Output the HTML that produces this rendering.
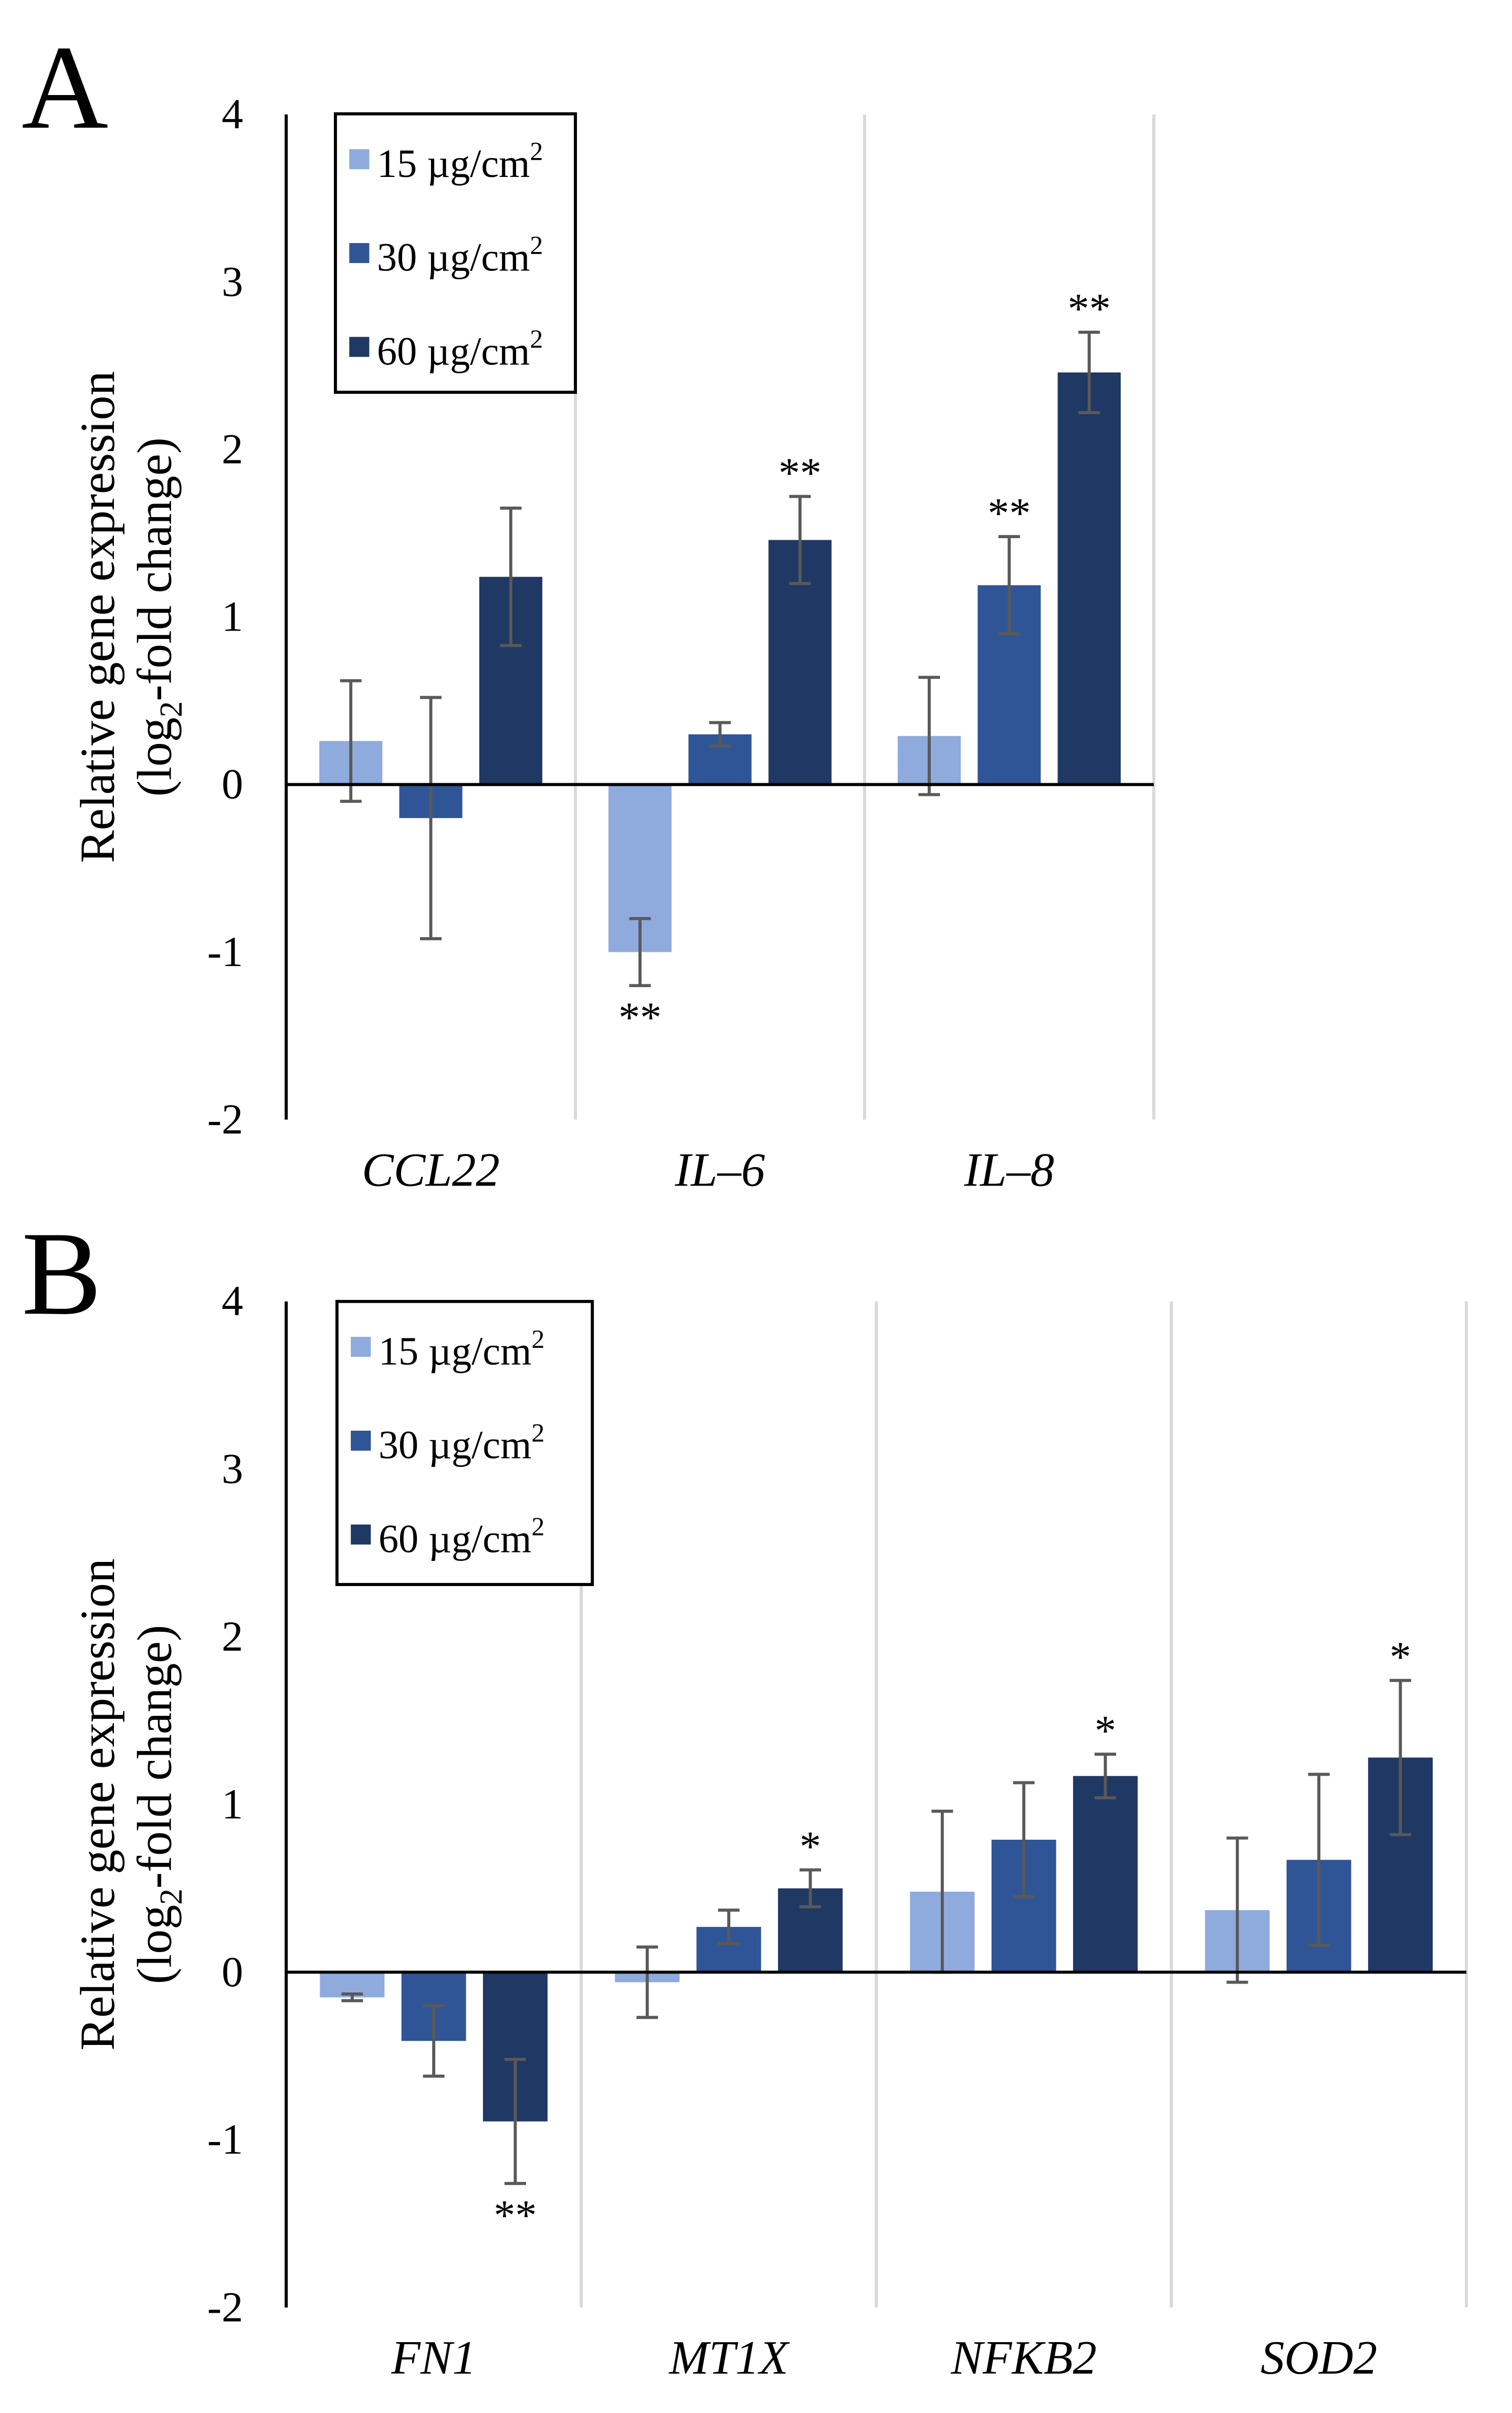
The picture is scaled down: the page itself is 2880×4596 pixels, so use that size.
<!DOCTYPE html>
<html><head><meta charset="utf-8"><style>
html,body{margin:0;padding:0;background:#fff}
svg{display:block}
text{font-family:"Liberation Serif",serif;fill:#000}
</style></head><body>
<svg id="chart" width="2880" height="4596" viewBox="0 0 1000 1596" xmlns="http://www.w3.org/2000/svg">
<g id="root" transform="scale(1.0175)"></g>
</svg>
<script>
const seriesNames = ["15 µg/cm", "30 µg/cm", "60 µg/cm"];
const colors = ["#8faadc", "#2f5597", "#203864"];
const yTicks = [4, 3, 2, 1, 0, -1, -2];
const catsA = ["CCL22", "IL–6", "IL–8"];
const valsA15 = [0.26, -1.0, 0.29];
const valsA30 = [-0.2, 0.3, 1.19];
const valsA60 = [1.24, 1.46, 2.46];
const errA15 = [0.36, 0.2, 0.35];
const errA30 = [0.72, 0.07, 0.29];
const errA60 = [0.41, 0.26, 0.24];
const starsA15 = ["", "**", ""];
const starsA30 = ["", "", "**"];
const starsA60 = ["", "**", "**"];
const catsB = ["FN1", "MT1X", "NFKB2", "SOD2"];
const valsB15 = [-0.15, -0.06, 0.48, 0.37];
const valsB30 = [-0.41, 0.27, 0.79, 0.67];
const valsB60 = [-0.89, 0.5, 1.17, 1.28];
const errB15 = [0.02, 0.21, 0.48, 0.43];
const errB30 = [0.21, 0.1, 0.34, 0.51];
const errB60 = [0.37, 0.11, 0.13, 0.46];
const starsB15 = ["", "", "", ""];
const starsB30 = ["", "", "", ""];
const starsB60 = ["**", "*", "*", "*"];

const NS = "http://www.w3.org/2000/svg";
const root = document.getElementById("root");
function mk(tag, attrs, parent, txt) {
  const e = document.createElementNS(NS, tag);
  for (const k in attrs) e.setAttribute(k, attrs[k]);
  if (txt !== undefined) e.textContent = txt;
  (parent || root).appendChild(e);
  return e;
}

function panel(cfg) {
  const g = mk("g", {});
  
  
  const y = v => cfg.y0 - v * cfg.unit;
  const n = cfg.cats.length;
  const cw = cfg.cw;
  const L = mk("text", {x: 14, y: cfg.y4 + 8, "font-size": 78}, g, cfg.letter);
  
  
  for (let i = 1; i <= n; i++) {
    const ln = mk("line", {x1: cfg.ax + i * cw, x2: cfg.ax + i * cw, y1: y(4), y2: y(-2), stroke: "#d9d9d9", "stroke-width": 2}, g);
    
    
  }
  const ya = mk("line", {x1: cfg.ax, x2: cfg.ax, y1: y(4), y2: y(-2), stroke: "#000", "stroke-width": 2}, g);
  
  
  yTicks.forEach(t => {
    const tx = mk("text", {x: cfg.ax - 28, y: y(t) + 9, "font-size": 28, "text-anchor": "end"}, g, String(t));
    
    
  });
  const yt = mk("text", {transform: `translate(74,${(y(4) + y(-2)) / 2}) rotate(-90)`, "font-size": 32, "text-anchor": "middle"}, g);
  
  
  mk("tspan", {x: 0, dy: 0}, yt, "Relative gene expression");
  mk("tspan", {x: 0, dy: 37}, yt, "(log");
  mk("tspan", {"font-size": 21, dy: 7}, yt, "2");
  mk("tspan", {dy: -7}, yt, "-fold change)");
  const vals = [cfg.v15, cfg.v30, cfg.v60];
  const errs = [cfg.e15, cfg.e30, cfg.e60];
  const stars = [cfg.s15, cfg.s30, cfg.s60];
  const bw = cfg.bw, gap = cfg.gap;
  const groupW = 3 * bw + 2 * gap;
  for (let c = 0; c < n; c++) {
    const gx = cfg.ax + c * cw + (cw - groupW) / 2;
    for (let s = 0; s < 3; s++) {
      const v = vals[s][c];
      const x = gx + s * (bw + gap);
      const r = mk("rect", {x: x, y: Math.min(y(v), y(0)), width: bw, height: Math.abs(y(v) - y(0)), fill: colors[s]}, g);
      
      
      const e = errs[s][c], cx = x + bw / 2;
      const eg = mk("g", {stroke: "#595959", "stroke-width": 2}, g);
      
      
      mk("line", {x1: cx, x2: cx, y1: y(v + e), y2: y(v - e)}, eg);
      mk("line", {x1: cx - 7, x2: cx + 7, y1: y(v + e), y2: y(v + e)}, eg);
      mk("line", {x1: cx - 7, x2: cx + 7, y1: y(v - e), y2: y(v - e)}, eg);
      const st = stars[s][c];
      if (st) {
        const sy = v >= 0 ? y(v + e) - 6 : y(v - e) + 30;
        const sx = mk("text", {x: cx, y: sy, "font-size": 28, "text-anchor": "middle"}, g, st);
        
        
      }
    }
    const cl = mk("text", {x: cfg.ax + c * cw + cw / 2, y: y(-2) + 43, "font-size": 31, "font-style": "italic", "text-anchor": "middle"}, g, cfg.cats[c]);
    
    
  }
  const zl = mk("line", {x1: cfg.ax, x2: cfg.ax + n * cw, y1: y(0), y2: y(0), stroke: "#000", "stroke-width": 2}, g);
  
  
  const lg = mk("g", {}, g);
  
  
  mk("rect", {x: cfg.lx, y: cfg.ly, width: cfg.lw, height: cfg.lh, fill: "#fff", stroke: "#000", "stroke-width": 2}, lg);
  for (let s = 0; s < 3; s++) {
    const ey = cfg.ly + 32 + s * 61;
    const le = mk("g", {}, lg);
    
    
    mk("rect", {x: cfg.lx + 9, y: ey - 9, width: 13, height: 13, fill: colors[s]}, le);
    const t = mk("text", {x: cfg.lx + 27, y: ey + 9, "font-size": 26}, le, seriesNames[s]);
    mk("tspan", {"font-size": 17, dy: -11}, t, "2");
  }
}

panel({name: "panel-a", letter: "A", y0: 510, unit: 108.9, y4: 75, ax: 186, cw: 188, bw: 41, gap: 11,
  cats: catsA, v15: valsA15, v30: valsA30, v60: valsA60, e15: errA15, e30: errA30, e60: errA60,
  s15: starsA15, s30: starsA30, s60: starsA60, lx: 218, ly: 74, lw: 156, lh: 181});
panel({name: "panel-b", letter: "B", y0: 1282, unit: 109, y4: 846, ax: 186, cw: 191.8, bw: 42, gap: 11,
  cats: catsB, v15: valsB15, v30: valsB30, v60: valsB60, e15: errB15, e30: errB30, e60: errB60,
  s15: starsB15, s30: starsB30, s60: starsB60, lx: 219, ly: 846, lw: 166, lh: 184});
</script>
</body></html>
